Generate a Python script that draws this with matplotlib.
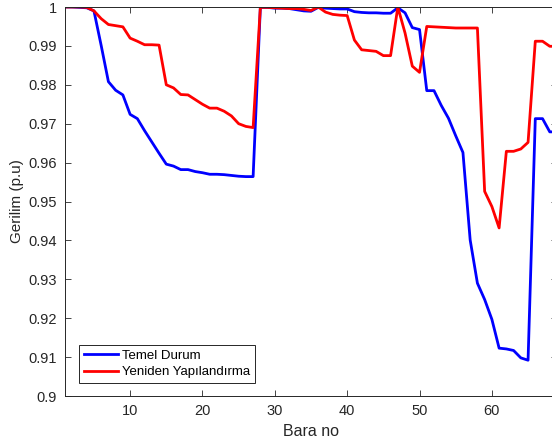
import numpy as np
import matplotlib
matplotlib.use("Agg")
import matplotlib.pyplot as plt

plt.rcParams['font.family'] = ['Liberation Sans', 'DejaVu Sans']

bara = np.arange(1, 70)

temel = [1.0000, 1.0000, 0.9999, 0.9998, 0.9990, 0.9901, 0.9808, 0.9786, 0.9774, 0.9724,
         0.9713, 0.9682, 0.9653, 0.9624, 0.9596, 0.9591, 0.9582, 0.9582, 0.9577, 0.9574,
         0.9570, 0.9570, 0.9569, 0.9567, 0.9565, 0.9564, 0.9564, 0.9999, 0.9999, 0.9997,
         0.9997, 0.9996, 0.9993, 0.9990, 0.9989, 0.9999, 0.9997, 0.9996, 0.9995, 0.9995,
         0.9988, 0.9986, 0.9985, 0.9985, 0.9984, 0.9984, 0.9998, 0.9985, 0.9947, 0.9942,
         0.9785, 0.9785, 0.9747, 0.9714, 0.9669, 0.9626, 0.9401, 0.9290, 0.9248, 0.9197,
         0.9123, 0.9121, 0.9117, 0.9098, 0.9092, 0.9713, 0.9713, 0.9679, 0.9679]

yeniden = [1.0000, 1.0000, 1.0000, 0.9999, 0.9990, 0.9970, 0.9955, 0.9952, 0.9949, 0.9920,
           0.9912, 0.9903, 0.9903, 0.9902, 0.9800, 0.9792, 0.9775, 0.9774, 0.9762, 0.9750,
           0.9740, 0.9740, 0.9732, 0.9720, 0.9700, 0.9693, 0.9690, 0.9999, 0.9999, 0.9998,
           0.9997, 0.9996, 0.9996, 0.9994, 0.9991, 1.0000, 0.9987, 0.9981, 0.9979, 0.9978,
           0.9915, 0.9890, 0.9888, 0.9886, 0.9875, 0.9875, 1.0000, 0.9933, 0.9848, 0.9832,
           0.9950, 0.9949, 0.9948, 0.9947, 0.9946, 0.9946, 0.9946, 0.9946, 0.9526, 0.9487,
           0.9432, 0.9629, 0.9629, 0.9635, 0.9652, 0.9912, 0.9912, 0.9899, 0.9899]

xticks = [10, 20, 30, 40, 50, 60]
yticks = np.round(np.arange(0.90, 1.0001, 0.01), 2)
ytick_labels = ['0.9', '0.91', '0.92', '0.93', '0.94', '0.95', '0.96', '0.97', '0.98', '0.99', '1']

gray = '#262626'

fig = plt.figure(figsize=(5.52, 4.48), dpi=100)
ax = fig.add_axes([65 / 552, 1 - 396 / 448, 492 / 552, 389 / 448])

ax.plot(bara, temel, color='#0000ff', lw=2, label='Temel Durum')
ax.plot(bara, yeniden, color='#ff0000', lw=2, label='Yeniden Yapılandırma')

ax.set_xlim(1, 69)
ax.set_ylim(0.9, 1.0)
ax.set_xticks(xticks)
ax.set_yticks(yticks)
ax.set_yticklabels(ytick_labels)
ax.tick_params(direction='in', top=True, right=True, length=4, width=0.6,
               colors=gray, labelsize=10.5, pad=6)
for s in ax.spines.values():
    s.set_color(gray)
    s.set_linewidth(0.7)

ax.set_xlabel('Bara no', fontsize=11.5, color=gray, labelpad=4)
ax.set_ylabel('Gerilim (p.u)', fontsize=11, color=gray, labelpad=3)

leg = ax.legend(loc='lower left', bbox_to_anchor=(14 / 492, 13 / 389), fontsize=9.5,
                frameon=True, fancybox=False, edgecolor=gray, framealpha=1,
                handlelength=2.6, handletextpad=0.3, borderpad=0.35, labelspacing=0.35,
                borderaxespad=0)
leg.get_frame().set_linewidth(0.7)

fig.savefig('out.png', dpi=100)
